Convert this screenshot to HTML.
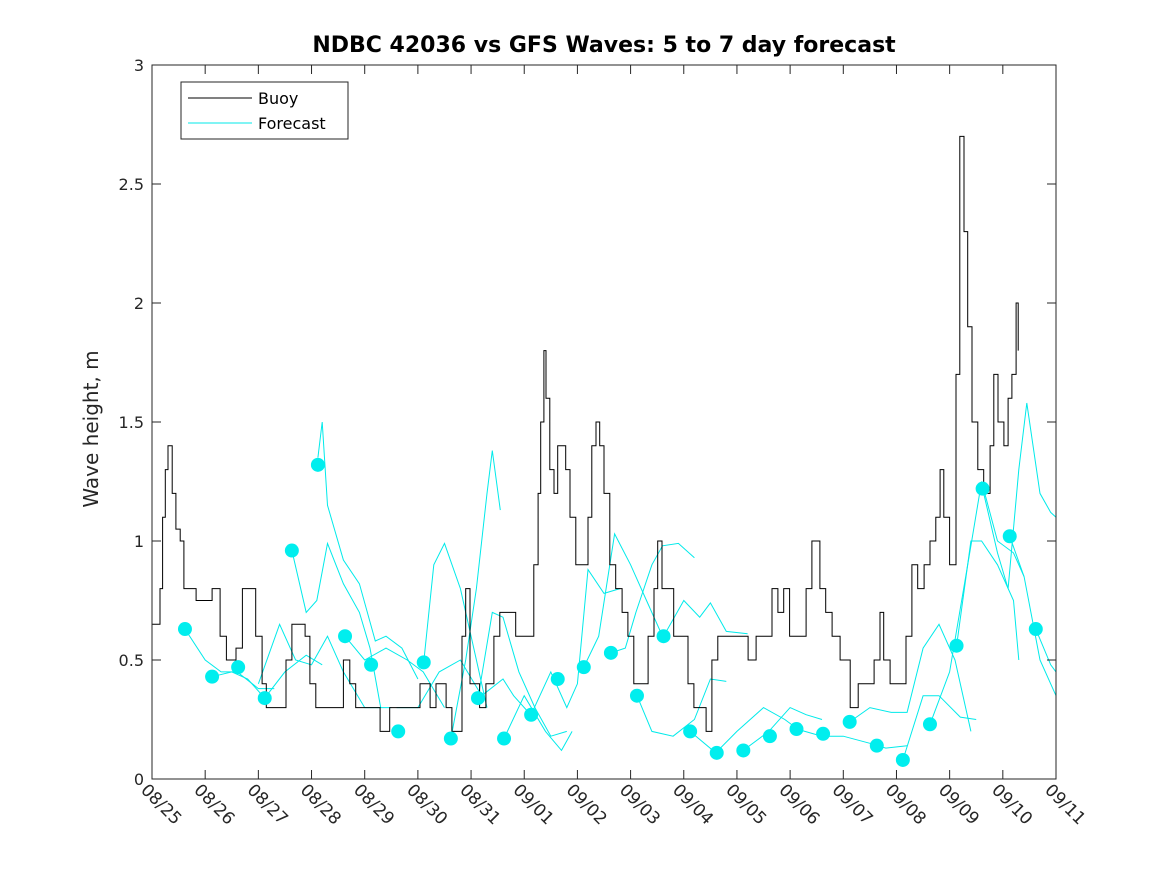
<!DOCTYPE html>
<html><head><meta charset="utf-8"><style>
body{margin:0;background:#fff}
svg{font-family:"DejaVu Sans","Liberation Sans",sans-serif}
</style></head><body>
<svg id="chart" width="1167" height="875" viewBox="0 0 1167 875" xmlns="http://www.w3.org/2000/svg">
<rect width="1167" height="875" fill="#fff"/>
<text x="604" y="52" text-anchor="middle" font-size="22" font-weight="bold" fill="#000">NDBC 42036 vs GFS Waves: 5 to 7 day forecast</text>
<text transform="translate(98,429) rotate(-90)" text-anchor="middle" font-size="20" fill="#262626">Wave height, m</text>
<g id="plot"></g>
<rect x="152" y="65" width="904" height="714" fill="none" stroke="#262626" stroke-width="1"/>
<g>
<rect x="181" y="82" width="167" height="57" fill="#fff" stroke="#262626"/>
<line x1="188" y1="98" x2="252" y2="98" stroke="#000"/>
<text x="258" y="104" font-size="16" fill="#000">Buoy</text>
<line x1="188" y1="123" x2="252" y2="123" stroke="#00e8e8"/>
<text x="258" y="129" font-size="16" fill="#000">Forecast</text>
</g>
</svg>
<script>
const xTickLabels=["08/25","08/26","08/27","08/28","08/29","08/30","08/31","09/01","09/02","09/03","09/04","09/05","09/06","09/07","09/08","09/09","09/10","09/11"];
const yTickValues=[0,0.5,1,1.5,2,2.5,3];
const yTickLabels=["0","0.5","1","1.5","2","2.5","3"];
const buoyDays=[0,0.15,0.2,0.25,0.3,0.38,0.45,0.53,0.6,0.7,0.83,1.0,1.13,1.28,1.4,1.58,1.7,1.8,1.95,2.07,2.15,2.45,2.52,2.63,2.88,2.97,3.08,3.46,3.6,3.72,3.83,4.2,4.29,4.47,4.66,4.85,5.04,5.23,5.34,5.53,5.64,5.75,5.83,5.9,5.98,6.16,6.28,6.43,6.54,6.73,6.84,6.99,7.1,7.18,7.26,7.31,7.37,7.41,7.48,7.56,7.63,7.71,7.78,7.86,7.97,8.12,8.2,8.27,8.35,8.42,8.5,8.61,8.72,8.84,8.95,9.06,9.17,9.33,9.44,9.51,9.59,9.7,9.81,9.93,10.08,10.19,10.3,10.42,10.49,10.53,10.64,10.87,11.06,11.21,11.36,11.55,11.66,11.77,11.88,11.99,12.18,12.3,12.41,12.49,12.56,12.67,12.79,12.94,13.13,13.28,13.43,13.58,13.69,13.76,13.88,14.07,14.18,14.29,14.4,14.52,14.63,14.74,14.82,14.89,15.0,15.12,15.19,15.27,15.34,15.42,15.53,15.64,15.76,15.83,15.91,16.02,16.1,16.17,16.25,16.29];
const buoyValues=[0.65,0.8,1.1,1.3,1.4,1.2,1.05,1.0,0.8,0.8,0.75,0.75,0.8,0.6,0.5,0.55,0.8,0.8,0.6,0.4,0.3,0.3,0.5,0.65,0.6,0.4,0.3,0.3,0.5,0.4,0.3,0.3,0.2,0.3,0.3,0.3,0.4,0.3,0.4,0.3,0.2,0.2,0.6,0.8,0.4,0.3,0.4,0.6,0.7,0.7,0.6,0.6,0.6,0.9,1.2,1.5,1.8,1.6,1.3,1.2,1.4,1.4,1.3,1.1,0.9,0.9,1.1,1.4,1.5,1.4,1.2,0.9,0.8,0.7,0.6,0.4,0.4,0.6,0.8,1.0,0.8,0.8,0.6,0.6,0.4,0.3,0.3,0.2,0.2,0.5,0.6,0.6,0.6,0.5,0.6,0.6,0.8,0.7,0.8,0.6,0.6,0.8,1.0,1.0,0.8,0.7,0.6,0.5,0.3,0.4,0.4,0.5,0.7,0.5,0.4,0.4,0.6,0.9,0.8,0.9,1.0,1.1,1.3,1.1,0.9,1.7,2.7,2.3,1.9,1.5,1.3,1.2,1.4,1.7,1.5,1.4,1.6,1.7,2.0,1.8];
const dotDays=[0.62,1.13,1.62,2.12,2.63,3.12,3.63,4.12,4.63,5.11,5.62,6.13,6.62,7.13,7.63,8.12,8.63,9.12,9.62,10.12,10.62,11.12,11.62,12.12,12.62,13.12,13.63,14.12,14.63,15.13,15.62,16.13,16.62];
const dotValues=[0.63,0.43,0.47,0.34,0.96,1.32,0.60,0.48,0.20,0.49,0.17,0.34,0.17,0.27,0.42,0.47,0.53,0.35,0.60,0.20,0.11,0.12,0.18,0.21,0.19,0.24,0.14,0.08,0.23,0.56,1.22,1.02,0.63];
const forecastDays=[
[0.62,1.0,1.3,1.6,2.0,2.3],
[1.13,1.5,1.8,2.12,2.5,2.9,3.2],
[2.63,2.9,3.1,3.3,3.6,3.9,4.1,4.3],
[3.12,3.2,3.3,3.6,3.9,4.2,4.4,4.7,5.0],
[2.0,2.4,2.7,3.0,3.3,3.6,4.0,4.5],
[3.63,4.0,4.4,4.8,5.1,5.5],
[5.11,5.3,5.5,5.8,6.1,6.3],
[5.62,5.9,6.1,6.3,6.4,6.55],
[4.6,5.0,5.4,5.8,6.2,6.6,6.8,7.2],
[6.13,6.4,6.6,6.9,7.2,7.5,7.8],
[6.62,7.0,7.4,7.7,7.9],
[7.13,7.5,7.8,8.0,8.2,8.5,8.8],
[8.12,8.4,8.7,9.0,9.3,9.6],
[8.63,8.9,9.1,9.4,9.6,9.9,10.2],
[9.12,9.4,9.8,10.2,10.5,10.8],
[9.62,10.0,10.3,10.5,10.8,11.2],
[10.12,10.6,11.0,11.5,11.9,12.2],
[11.12,11.6,12.0,12.3,12.6],
[12.12,12.6,13.0,13.5,13.8,14.2],
[13.12,13.5,13.9,14.2,14.5,14.8,15.1,15.4],
[14.12,14.5,14.8,15.2,15.5],
[14.63,15.0,15.4,15.6,15.9,16.2,16.4],
[15.13,15.4,15.6,15.9,16.2,16.3],
[15.62,15.9,16.1,16.3,16.45,16.7,16.9,17.0],
[16.13,16.4,16.7,17.0],
[16.62,16.9,17.0]];
const forecastValues=[
[0.63,0.5,0.45,0.45,0.38,0.38],
[0.43,0.45,0.42,0.34,0.45,0.52,0.48],
[0.96,0.7,0.75,0.99,0.82,0.7,0.55,0.3],
[1.35,1.5,1.15,0.92,0.82,0.58,0.6,0.55,0.42],
[0.4,0.65,0.5,0.48,0.6,0.45,0.3,0.3],
[0.6,0.5,0.55,0.5,0.45,0.3],
[0.49,0.9,0.99,0.8,0.5,0.3],
[0.17,0.5,0.8,1.2,1.38,1.13],
[0.3,0.3,0.45,0.5,0.35,0.42,0.35,0.25],
[0.34,0.7,0.68,0.45,0.3,0.18,0.2],
[0.17,0.35,0.2,0.12,0.2],
[0.27,0.45,0.3,0.4,0.88,0.78,0.8],
[0.47,0.6,1.03,0.9,0.75,0.6],
[0.53,0.55,0.7,0.9,0.98,0.99,0.93],
[0.35,0.2,0.18,0.25,0.42,0.41],
[0.6,0.75,0.68,0.74,0.62,0.61],
[0.2,0.11,0.2,0.3,0.25,0.2],
[0.12,0.2,0.3,0.27,0.25],
[0.21,0.18,0.18,0.15,0.13,0.14],
[0.24,0.3,0.28,0.28,0.55,0.65,0.5,0.2],
[0.08,0.35,0.35,0.26,0.25],
[0.23,0.45,0.98,1.25,1.0,0.95,0.85],
[0.56,1.0,1.0,0.9,0.75,0.5],
[1.22,0.95,0.8,1.3,1.58,1.2,1.12,1.1],
[1.02,0.85,0.5,0.35],
[0.63,0.48,0.45]];

const NS="http://www.w3.org/2000/svg";
const X0=152,X1=1056,Y0=779,Y1=65;
const xScale=d=>X0+d*(X1-X0)/17;
const yScale=v=>Y0-v*(Y0-Y1)/3;
const svg=document.getElementById('chart');
const plot=document.getElementById('plot');
function mk(tag,attrs,parent){const e=document.createElementNS(NS,tag);for(const k in attrs)e.setAttribute(k,attrs[k]);parent.appendChild(e);return e;}

yTickValues.forEach((v,i)=>{
  const y=yScale(v);
  const t1=mk('line',{x1:X0,x2:X0+9,y1:y,y2:y,stroke:'#262626'},svg);
  
  
  const t2=mk('line',{x1:X1-9,x2:X1,y1:y,y2:y,stroke:'#262626'},svg);
  
  
  const tx=mk('text',{x:X0-8,y:y+6,'text-anchor':'end','font-size':'16',fill:'#262626'},svg);
  tx.textContent=yTickLabels[i];
  
  
});
xTickLabels.forEach((lab,i)=>{
  const x=xScale(i);
  const t1=mk('line',{x1:x,x2:x,y1:Y0,y2:Y0-9,stroke:'#262626'},svg);
  
  
  const t2=mk('line',{x1:x,x2:x,y1:Y1,y2:Y1+9,stroke:'#262626'},svg);
  
  
  const tx=mk('text',{transform:`translate(${x-12},${Y0+12}) rotate(45)`,'font-size':'17',fill:'#262626'},svg);
  tx.textContent=lab;
  
  
});
forecastDays.forEach((ds,j)=>{
  const pts=ds.map((d,k)=>xScale(d).toFixed(1)+','+yScale(forecastValues[j][k]).toFixed(1)).join(' ');
  const pl=mk('polyline',{points:pts,fill:'none',stroke:'#00eaea','stroke-width':'1'},plot);
  
  
});
let bp=[];
buoyDays.forEach((d,i)=>{
  if(i>0)bp.push(xScale(d).toFixed(1)+','+yScale(buoyValues[i-1]).toFixed(1));
  bp.push(xScale(d).toFixed(1)+','+yScale(buoyValues[i]).toFixed(1));
});
const bl=mk('polyline',{points:bp.join(' '),fill:'none',stroke:'#000','stroke-width':'1'},plot);


dotDays.forEach((d,i)=>{
  const c=mk('circle',{cx:xScale(d),cy:yScale(dotValues[i]),r:7,fill:'#00eeee'},plot);
  
  
});
</script>
</body></html>
